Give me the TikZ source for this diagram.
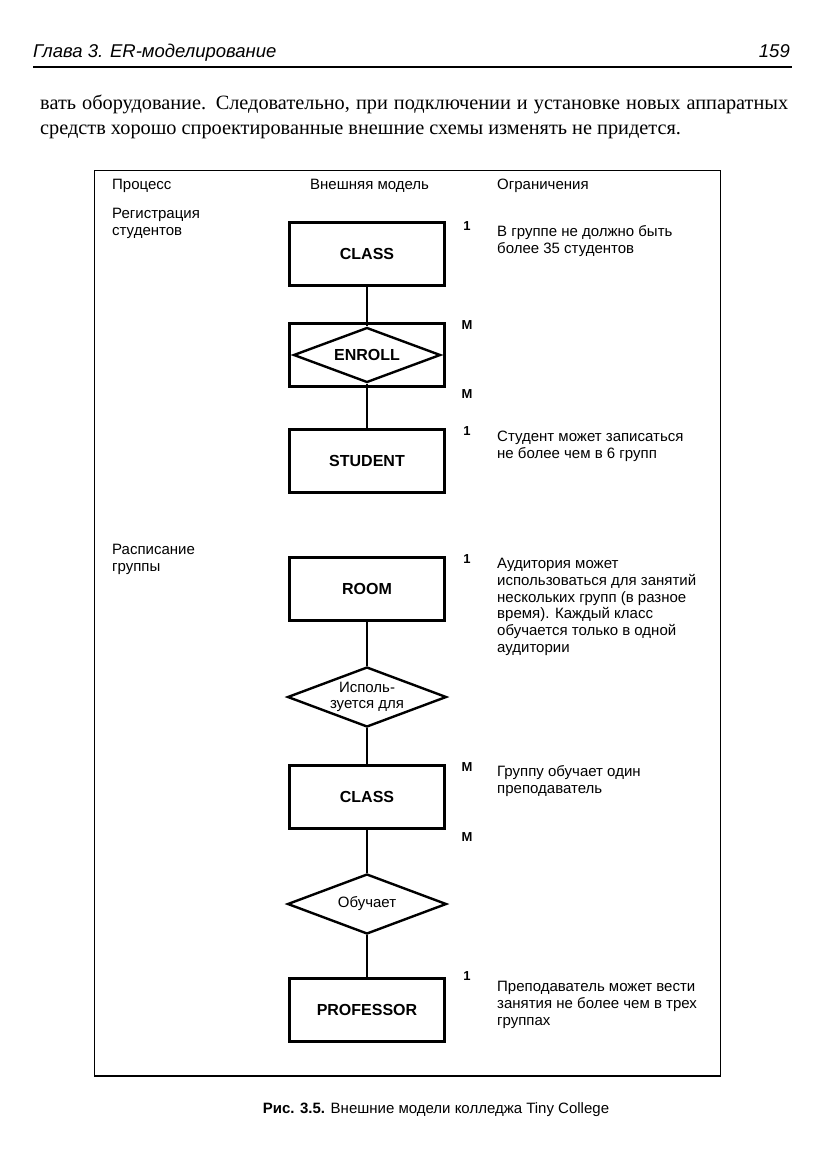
\documentclass[tikz,border=0pt]{standalone}
\usepackage{fontspec}
\setmainfont{Liberation Serif}
\setsansfont{Liberation Sans}
\usetikzlibrary{shapes.geometric}

\tikzset{entity/.style = {shape = rectangle,
                          color = black,
                          line width = 2.4pt,
                          minimum width = 155pt,
                          minimum height = 63pt,
                          font=\fontsize{16}{18}\selectfont\sffamily\bfseries,
                          draw}}
\tikzset{relation/.style = {shape = diamond,
                            color = black,
                            line width = 2.4pt,
                            inner sep = 0pt,
                            aspect = 2.65,
                            minimum width = 159pt,
                            minimum height = 60pt,
                            align = center,
                            font=\fontsize{15}{15.5}\selectfont\sffamily,
                            draw}}
\tikzset{link/.style = {draw,
                        color = black,
                        line width = 2.8pt}}

\begin{document}
\begin{tikzpicture}[x=1pt, y=-1pt,
                    card/.style = {font=\fontsize{13}{14}\selectfont\sffamily\bfseries,
                                   inner sep=0pt},
                    note/.style = {font=\fontsize{15}{16.8}\selectfont\sffamily,
                                   align=left,
                                   inner sep=0pt,
                                   anchor=north west}]
		\useasboundingbox (0,0) rectangle (831,1175);
		% page head
		\node[anchor=base west, inner sep=0pt, font=\fontsize{18.5}{20}\selectfont\sffamily\itshape] (head) at (33,57) {Глава 3. ER-моделирование};
		\node[anchor=base east, inner sep=0pt, font=\fontsize{18.5}{20}\selectfont\sffamily\itshape] (page) at (790,57) {159};
		\draw[line width=1.6pt] (33,67) -- (792,67);
		\node[anchor=base west, inner sep=0pt] (body) at (40,109) {\parbox[t]{748pt}{\fontsize{20.3}{25}\selectfont
			вать оборудование. Следовательно, при подключении и установке новых аппаратных\linebreak
			средств хорошо спроектированные внешние схемы изменять не придется.}};
		% frame
		\draw[line width=0.8pt] (94,170) rectangle (720,1076);
		\draw[line width=1.8pt] (94,1076) -- (720,1076);
		\node[note, anchor=base west] (h1) at (112,189) {Процесс};
		\node[note, anchor=base west] (h2) at (310,189) {Внешняя модель};
		\node[note, anchor=base west] (h3) at (497,189) {Ограничения};
		\node[note] (p1) at (112,208) {Регистрация\\студентов};
		\node[note] (p2) at (112,544) {Расписание\\группы};
		% entities and relations
		\node[entity] (class1) at (367,254) {CLASS};
		\node[entity] (enrollbox) at (367,355) {};
		\node[relation, minimum width=147pt, minimum height=55pt, aspect=2.67,
		      font=\fontsize{16}{18}\selectfont\sffamily\bfseries] (enroll) at (367,355) {ENROLL};
		\node[entity] (student) at (367,461) {STUDENT};
		\node[entity] (room) at (367,589) {ROOM};
		\node[relation] (uses) at (367,697) {Исполь-\\зуется для};
		\node[entity] (class2) at (367,797) {CLASS};
		\node[relation] (teaches) at (367,904) {Обучает};
		\node[entity] (prof) at (367,1010) {PROFESSOR};
		\path[link] (class1) -- (enroll);
		\path[link] (enroll) -- (student);
		\path[link] (room) -- (uses);
		\path[link] (uses) -- (class2);
		\path[link] (class2) -- (teaches);
		\path[link] (teaches) -- (prof);
		% cardinalities
		\node[card, anchor=north] (c1) at (467,221) {1};
		\node[card, anchor=north] (c2) at (467,320) {M};
		\node[card, anchor=north] (c3) at (467,389) {M};
		\node[card, anchor=north] (c4) at (467,426) {1};
		\node[card, anchor=north] (c5) at (467,554) {1};
		\node[card, anchor=north] (c6) at (467,762) {M};
		\node[card, anchor=north] (c7) at (467,832) {M};
		\node[card, anchor=north] (c8) at (467,971) {1};
		% constraints
		\node[note] (n1) at (497,225) {В группе не должно быть\\более 35 студентов};
		\node[note] (n2) at (497,431) {Студент может записаться\\не более чем в 6 групп};
		\node[note] (n3) at (497,558) {Аудитория может\\использоваться для занятий\\нескольких групп (в разное\\время). Каждый класс\\обучается только в одной\\аудитории};
		\node[note] (n4) at (497,765) {Группу обучает один\\преподаватель};
		\node[note] (n5) at (497,981) {Преподаватель может вести\\занятия не более чем в трех\\группах};
		% caption
		\node[anchor=base, font=\fontsize{15}{17}\selectfont\sffamily] (caption) at (436,1113) {\textbf{Рис. 3.5.} Внешние модели колледжа Tiny College};
	\end{tikzpicture}
\end{document}
